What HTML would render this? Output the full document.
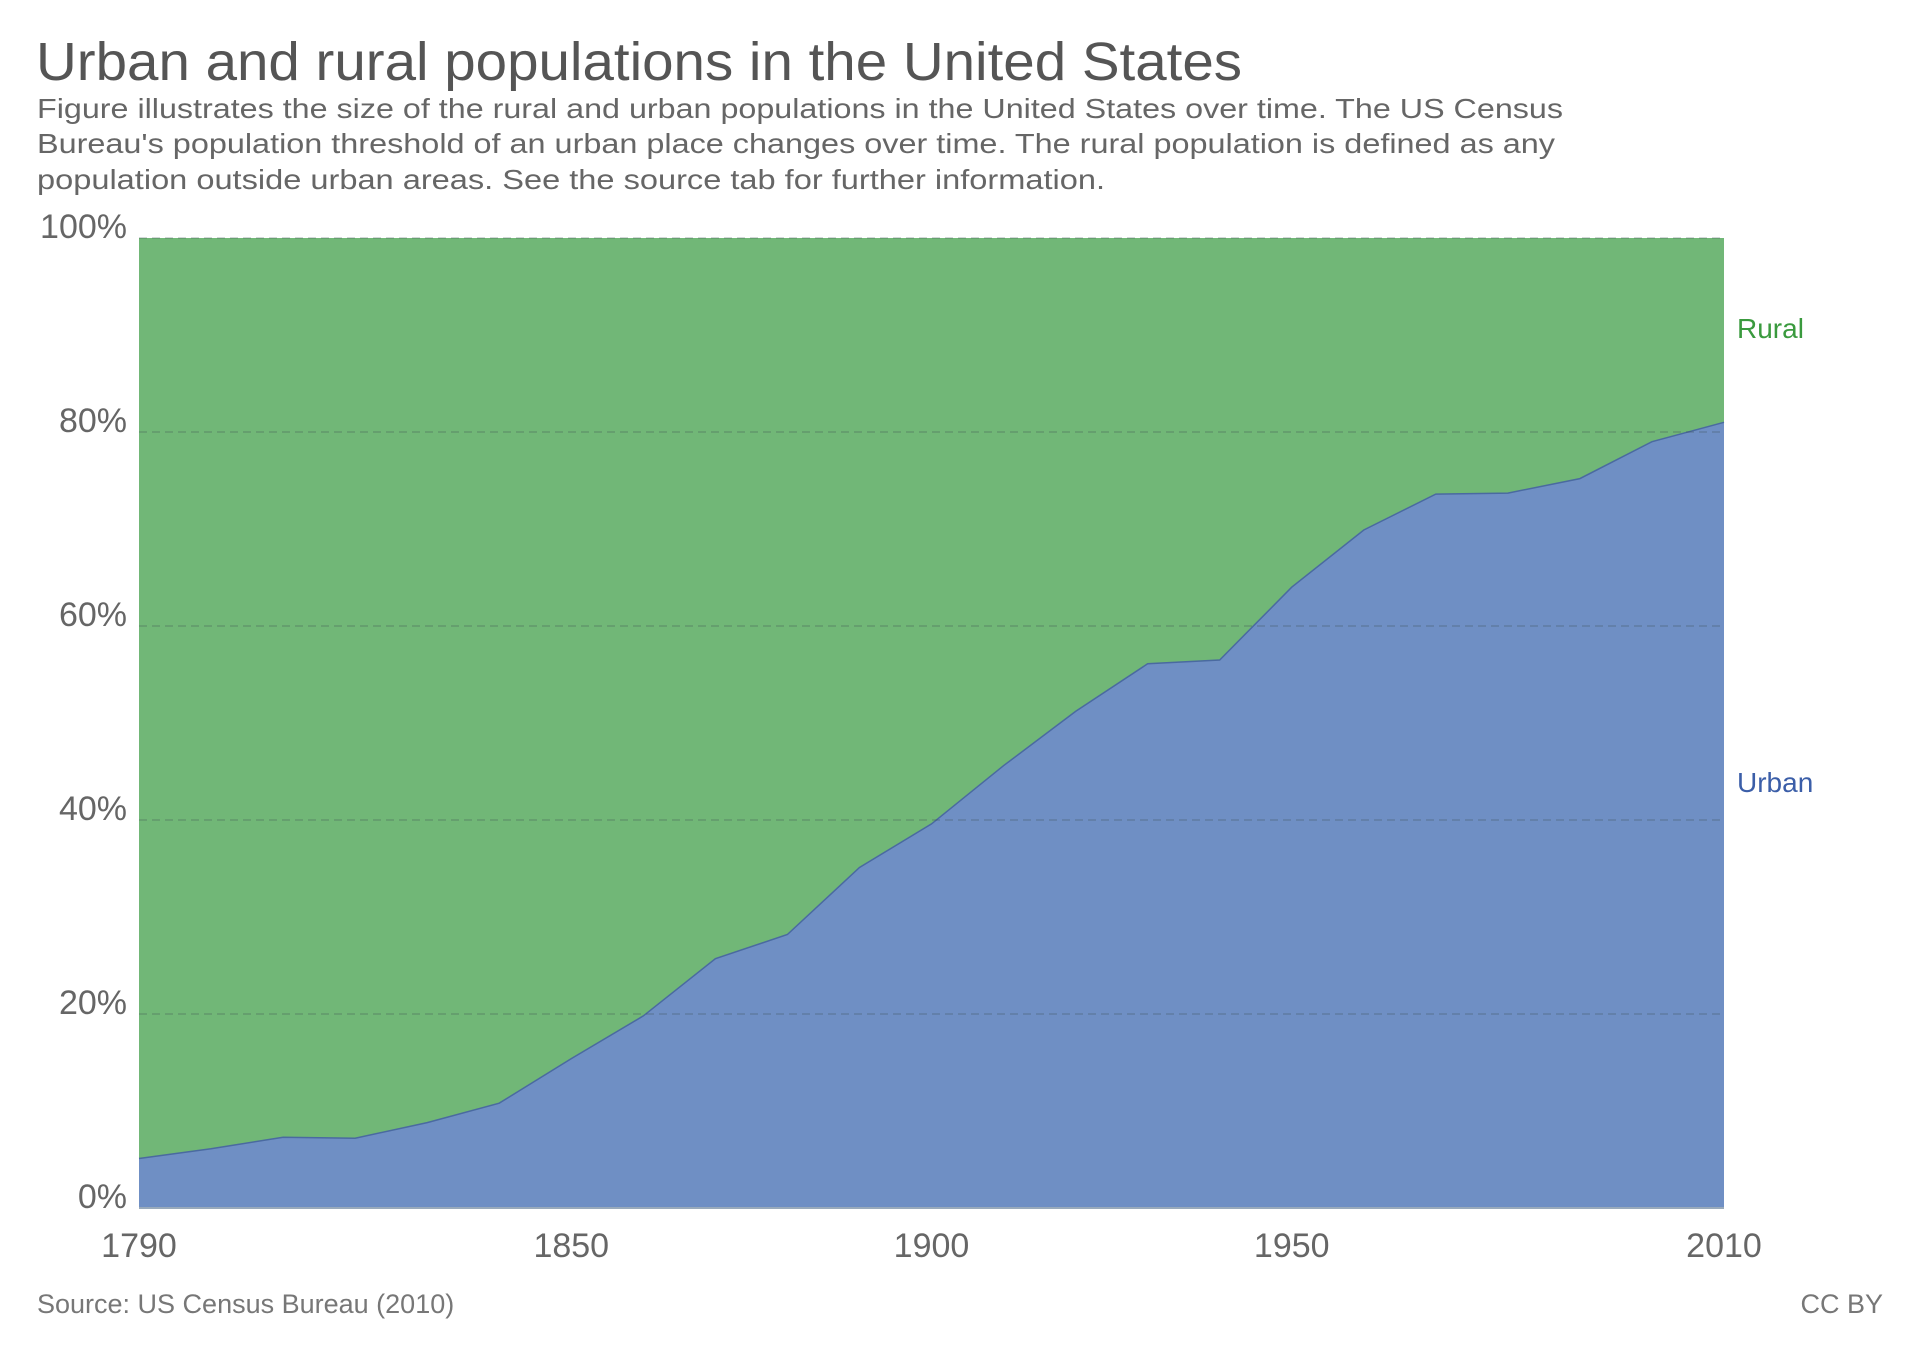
<!DOCTYPE html>
<html><head><meta charset="utf-8"><style>
html,body{margin:0;padding:0;background:#fff}
svg{display:block;font-family:"Liberation Sans",Arial,sans-serif}
</style></head><body>
<svg id="chart" width="1920" height="1356" viewBox="0 0 1920 1356" xmlns="http://www.w3.org/2000/svg">
<text x="36" y="80" font-size="54" fill="#555" textLength="1206" lengthAdjust="spacingAndGlyphs">Urban and rural populations in the United States</text>
<text x="37" y="118" font-size="28" fill="#666" textLength="1526" lengthAdjust="spacingAndGlyphs">Figure illustrates the size of the rural and urban populations in the United States over time. The US Census</text>
<text x="37" y="153" font-size="28" fill="#666" textLength="1518" lengthAdjust="spacingAndGlyphs">Bureau's population threshold of an urban place changes over time. The rural population is defined as any</text>
<text x="37" y="189" font-size="28" fill="#666" textLength="1068" lengthAdjust="spacingAndGlyphs">population outside urban areas. See the source tab for further information.</text>
<g id="plot"></g>
<g id="axes"></g>
<text x="1737" y="338" font-size="28" fill="#3a9a3e">Rural</text>
<text x="1737" y="792" font-size="28" fill="#3b5ea8">Urban</text>
<text x="37" y="1313" font-size="27" fill="#777">Source: US Census Bureau (2010)</text>
<text x="1883" y="1313" font-size="27" fill="#777" text-anchor="end">CC BY</text>
</svg>
<script>
const years = [1790,1800,1810,1820,1830,1840,1850,1860,1870,1880,1890,1900,1910,1920,1930,1940,1950,1960,1970,1980,1990,2000,2010];
const urbanPct = [5.1,6.1,7.3,7.2,8.8,10.8,15.4,19.8,25.7,28.2,35.1,39.6,45.6,51.2,56.1,56.5,64.0,69.9,73.6,73.7,75.2,79.0,81.0];
const yTicks = [0,20,40,60,80,100];
const yTickLabels = ["0%","20%","40%","60%","80%","100%"];
const xTicks = [1790,1850,1900,1950,2010];
const xTickLabels = ["1790","1850","1900","1950","2010"];

const NS="http://www.w3.org/2000/svg";
const L=139,R=1724,T=238,B=1208;
const xs=v=>L+(v-1790)/(2010-1790)*(R-L);
const ys=v=>B-v/100*(B-T);
const plot=document.getElementById('plot'), axes=document.getElementById('axes');
function mk(tag,attrs,parent){const e=document.createElementNS(NS,tag);for(const k in attrs)e.setAttribute(k,attrs[k]);parent.appendChild(e);return e;}

const rural=mk('rect',{x:L,y:T,width:R-L,height:B-T,fill:'#71b777'},plot);



let pts=years.map((y,i)=>xs(y).toFixed(1)+','+ys(urbanPct[i]).toFixed(1));
const urban=mk('polygon',{points:xs(years[0])+','+B+' '+pts.join(' ')+' '+xs(years[years.length-1])+','+B,fill:'#6f8fc4'},plot);


const uline=mk('polyline',{points:pts.join(' '),fill:'none',stroke:'#4a6aa0','stroke-width':1.5},plot);



yTicks.forEach((t,i)=>{
  const g=mk('line',{x1:L,x2:R,y1:ys(t),y2:ys(t),stroke:'rgba(60,80,80,0.3)','stroke-width':1.5,'stroke-dasharray':'8,5'},axes);
  
  
  const tx=mk('text',{x:127,y:ys(t),'font-size':34,fill:'#666','text-anchor':'end'},axes);
  tx.textContent=yTickLabels[i];
  
  
});
const base=mk('line',{x1:L,x2:R,y1:B,y2:B,stroke:'#9ab','stroke-width':2},axes);


xTicks.forEach((t,i)=>{
  const tx=mk('text',{x:xs(t),y:1257,'font-size':34,fill:'#666','text-anchor':'middle'},axes);
  tx.textContent=xTickLabels[i];
  
  
});
</script>
</body></html>
